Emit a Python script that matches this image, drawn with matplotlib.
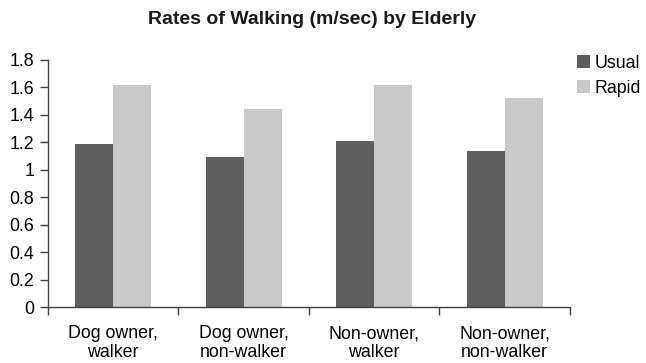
import numpy as np
import matplotlib.pyplot as plt

plt.rcParams['font.family'] = ['Liberation Sans', 'DejaVu Sans']

groups = ["Dog owner,\nwalker", "Dog owner,\nnon-walker", "Non-owner,\nwalker", "Non-owner,\nnon-walker"]
usual = [1.19, 1.09, 1.21, 1.14]
rapid = [1.62, 1.44, 1.62, 1.52]
yticks = [0, 0.2, 0.4, 0.6, 0.8, 1, 1.2, 1.4, 1.6, 1.8]
ytick_labels = ["0", "0.2", "0.4", "0.6", "0.8", "1", "1.2", "1.4", "1.6", "1.8"]

fig = plt.figure(figsize=(6.46, 3.63), dpi=100)
ax = fig.add_axes([0.0743, 0.154, 0.808, 0.681])

x = np.arange(len(groups))
w = 0.29
ax.bar(x - w / 2, usual, w, color='#5e5e5c', label='Usual')
ax.bar(x + w / 2, rapid, w, color='#c9c9c9', label='Rapid')

ax.set_xlim(-0.5, len(groups) - 0.5)
ax.set_ylim(0, 1.8)
ax.set_yticks(yticks)
ax.set_yticklabels(ytick_labels)

# boundary ticks between groups, labels sit in the middle
ax.set_xticks(np.arange(len(groups) + 1) - 0.5)
ax.set_xticklabels([])
ax.set_xticks(x, minor=True)
ax.set_xticklabels(groups, minor=True, linespacing=1.12)
ax.tick_params(axis='x', which='major', length=6, width=1, color='#404040', direction='out')
ax.tick_params(axis='x', which='minor', length=0, pad=13, labelsize=12.8)
ax.tick_params(axis='y', length=6, width=1, color='#404040', labelsize=12.8, pad=4)

for s in ['top', 'right']:
    ax.spines[s].set_visible(False)
for s in ['left', 'bottom']:
    ax.spines[s].set_color('#404040')
    ax.spines[s].set_linewidth(1)

fig.text(0.483, 0.945, "Rates of Walking (m/sec) by Elderly", ha='center', va='center',
         fontsize=14, fontweight='bold', color='#1a1a1a')

ax.legend(loc='upper left', bbox_to_anchor=(1.0, 1.05), frameon=False, fontsize=12.8,
          handlelength=0.7, handleheight=0.7, handletextpad=0.3, labelspacing=0.45,
          borderaxespad=0, borderpad=0.4)

fig.savefig('out.png', dpi=100)
